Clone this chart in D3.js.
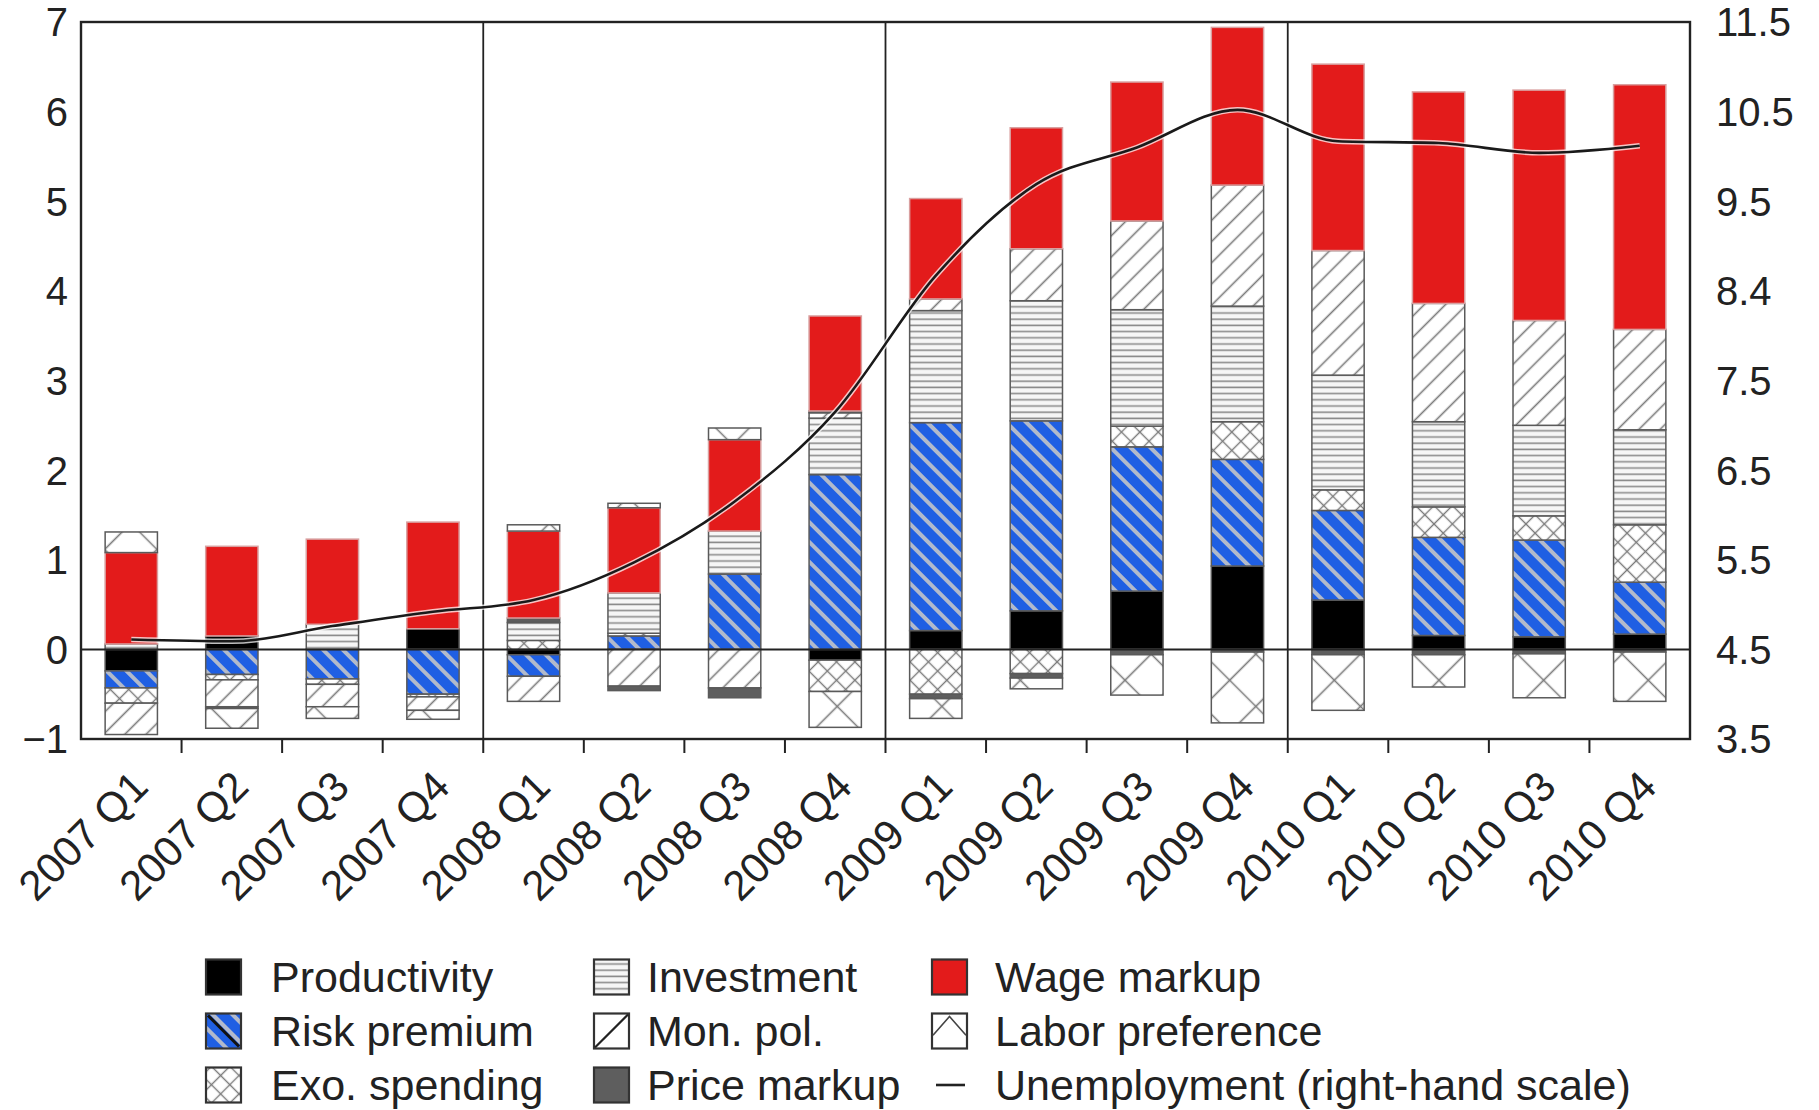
<!DOCTYPE html>
<html><head><meta charset="utf-8">
<script src="https://cdn.jsdelivr.net/npm/d3@7"></script>
<style>
body{margin:0;background:#fff}
svg{display:block}
text{font-family:"Liberation Sans",Arial,Helvetica,sans-serif;fill:#222}
</style>
</head><body>
<svg id="chart" width="1819" height="1110"></svg>
<script>
// ---------- data ----------
const quarters = ["2007 Q1","2007 Q2","2007 Q3","2007 Q4","2008 Q1","2008 Q2","2008 Q3","2008 Q4",
                  "2009 Q1","2009 Q2","2009 Q3","2009 Q4","2010 Q1","2010 Q2","2010 Q3","2010 Q4"];
const productivity    = [-0.24, 0.15, 0.00, 0.23, -0.06, 0.00, 0.00, -0.12, 0.21, 0.43, 0.65, 0.93, 0.55, 0.155, 0.14, 0.17];
const riskPremium     = [-0.19, -0.28, -0.33, -0.50, -0.24, 0.15, 0.84, 1.95, 2.32, 2.12, 1.61, 1.19, 1.00, 1.095, 1.08, 0.58];
const exoSpending     = [-0.17, -0.06, -0.06, -0.03, 0.10, 0.03, 0.00, -0.35, -0.50, -0.27, 0.23, 0.42, 0.23, 0.34, 0.27, 0.64];
const investment      = [0.06, 0.00, 0.28, 0.00, 0.20, 0.45, 0.48, 0.63, 1.25, 1.34, 1.30, 1.29, 1.28, 0.95, 1.01, 1.06];
const monPol          = [-0.35, -0.30, -0.25, -0.15, -0.28, -0.41, -0.43, 0.06, 0.13, 0.58, 0.99, 1.35, 1.39, 1.32, 1.17, 1.12];
const priceMarkup     = [0.00, -0.02, 0.00, 0.00, 0.05, -0.05, -0.11, 0.02, -0.05, -0.05, -0.06, -0.03, -0.06, -0.06, -0.05, -0.03];
const wageMarkup      = [1.02, 1.00, 0.95, 1.19, 0.97, 0.95, 1.02, 1.06, 1.12, 1.35, 1.55, 1.76, 2.08, 2.36, 2.57, 2.73];
const laborPreference = [0.23, -0.22, -0.13, -0.10, 0.07, 0.05, 0.13, -0.40, -0.22, -0.12, -0.45, -0.79, -0.62, -0.36, -0.49, -0.55];
const unemployment    = [4.61, 4.59, 4.76, 4.92, 5.05, 5.47, 6.15, 7.15, 8.67, 9.69, 10.10, 10.52, 10.17, 10.15, 10.04, 10.12];

const seriesNames = ["Productivity","Risk premium","Exo. spending","Investment","Mon. pol.","Price markup","Wage markup","Labor preference"];
const seriesValues = [productivity, riskPremium, exoSpending, investment, monPol, priceMarkup, wageMarkup, laborPreference];

const leftTicks = [7,6,5,4,3,2,1,0,-1];
const leftTickLabels = ["7","6","5","4","3","2","1","0","\u22121"];
const rightTicks = [11.5,10.5,9.5,8.5,7.5,6.5,5.5,4.5,3.5];
const rightTickLabels = ["11.5","10.5","9.5","8.4","7.5","6.5","5.5","4.5","3.5"];

const legendColumns = [
  ["Productivity","Risk premium","Exo. spending"],
  ["Investment","Mon. pol.","Price markup"],
  ["Wage markup","Labor preference","Unemployment (right-hand scale)"]
];

// ---------- layout ----------
const plot = {left: 81, right: 1690, top: 22, bottom: 739};
const svg = d3.select("#chart");

const x = d3.scaleBand().domain(quarters).range([plot.left, plot.right]).paddingInner(0.48).paddingOuter(0.24);
const y = d3.scaleLinear().domain([-1, 7]).range([plot.bottom, plot.top]);
const yR = d3.scaleLinear().domain([3.5, 11.5]).range([plot.bottom, plot.top]);

// ---------- patterns ----------
const defs = svg.append("defs");
function linePattern(id, bg, stroke, sw, period, angle) {
  const p = defs.append("pattern").attr("id", id).attr("patternUnits", "userSpaceOnUse")
    .attr("width", period).attr("height", period)
    .attr("patternTransform", `rotate(${angle})`);
  p.append("rect").attr("width", period).attr("height", period).attr("fill", bg);
  p.append("line").attr("x1", period/2).attr("x2", period/2).attr("y1", -1).attr("y2", period+1)
    .attr("stroke", stroke).attr("stroke-width", sw);
}
function crossPattern(id, stroke, sw, period) {
  const p = defs.append("pattern").attr("id", id).attr("patternUnits", "userSpaceOnUse")
    .attr("width", period).attr("height", period)
    .attr("patternTransform", "rotate(45)");
  p.append("rect").attr("width", period).attr("height", period).attr("fill", "#fff");
  p.append("line").attr("x1", period/2).attr("x2", period/2).attr("y1", -1).attr("y2", period+1)
    .attr("stroke", stroke).attr("stroke-width", sw);
  p.append("line").attr("y1", period/2).attr("y2", period/2).attr("x1", -1).attr("x2", period+1)
    .attr("stroke", stroke).attr("stroke-width", sw);
}
linePattern("pRisk", "#1f5fe3", "#b2bacb", 4, 14, -45);
linePattern("pMon", "#fff", "#7a7a7a", 1.6, 15, 45);
crossPattern("pExo", "#7a7a7a", 1.4, 13);
crossPattern("pLabor", "#7a7a7a", 1.6, 37);
const inv = defs.append("pattern").attr("id", "pInv").attr("patternUnits", "userSpaceOnUse")
  .attr("width", 8).attr("height", 6.2);
inv.append("rect").attr("width", 8).attr("height", 6.2).attr("fill", "#f6f6f6");
inv.append("line").attr("x1", 0).attr("x2", 8).attr("y1", 3).attr("y2", 3).attr("stroke", "#8c8c8c").attr("stroke-width", 1.6);

const fills = {
  "Productivity": "#000",
  "Risk premium": "url(#pRisk)",
  "Exo. spending": "url(#pExo)",
  "Investment": "url(#pInv)",
  "Mon. pol.": "url(#pMon)",
  "Price markup": "#5e5e5e",
  "Wage markup": "#e31b1b",
  "Labor preference": "url(#pLabor)"
};
const strokes = {"Wage markup": "#d9a0a0"};

// ---------- stacked bars ----------
const rows = quarters.map((q, i) => {
  const r = {q};
  seriesNames.forEach((s, k) => r[s] = seriesValues[k][i]);
  return r;
});
const stacked = d3.stack().keys(seriesNames).offset(d3.stackOffsetDiverging)(rows);

const barsG = svg.append("g");
stacked.forEach(layer => {
  barsG.append("g").selectAll("rect")
    .data(layer.filter(d => Math.abs(d[1] - d[0]) > 1e-9))
    .join("rect")
    .attr("x", d => x(d.data.q))
    .attr("width", x.bandwidth())
    .attr("y", d => y(Math.max(d[0], d[1])))
    .attr("height", d => Math.abs(y(d[0]) - y(d[1])))
    .attr("fill", fills[layer.key])
    .attr("stroke", strokes[layer.key] || "#5a5a5a")
    .attr("stroke-width", 1.5);
});

// ---------- group dividers, zero line ----------
const step = x.step();
const boundaries = quarters.slice(1).map(q => x(q) - step * x.paddingInner() / 2);
svg.append("g").selectAll("line")
  .data(boundaries.filter((b, i) => (i + 1) % 4 === 0))
  .join("line")
  .attr("x1", d => d).attr("x2", d => d)
  .attr("y1", plot.top).attr("y2", plot.bottom)
  .attr("stroke", "#222").attr("stroke-width", 1.8);

svg.append("line")
  .attr("x1", plot.left).attr("x2", plot.right)
  .attr("y1", y(0)).attr("y2", y(0))
  .attr("stroke", "#222").attr("stroke-width", 2);

// ---------- unemployment line ----------
const line = d3.line()
  .x((d, i) => x(quarters[i]) + x.bandwidth() / 2)
  .y(d => yR(d))
  .curve(d3.curveMonotoneX);
svg.append("path").attr("d", line(unemployment))
  .attr("fill", "none").attr("stroke", "#fff").attr("stroke-opacity", 0.75).attr("stroke-width", 5.5);
svg.append("path").attr("d", line(unemployment))
  .attr("fill", "none").attr("stroke", "#1a1a1a").attr("stroke-width", 2.6);

// ---------- frame ----------
svg.append("rect")
  .attr("x", plot.left).attr("y", plot.top)
  .attr("width", plot.right - plot.left).attr("height", plot.bottom - plot.top)
  .attr("fill", "none").attr("stroke", "#222").attr("stroke-width", 2.4);

svg.append("g").selectAll("line")
  .data(boundaries)
  .join("line")
  .attr("x1", d => d).attr("x2", d => d)
  .attr("y1", plot.bottom).attr("y2", plot.bottom + 14)
  .attr("stroke", "#222").attr("stroke-width", 2);

// ---------- axes labels ----------
svg.append("g").selectAll("text")
  .data(leftTicks)
  .join("text")
  .attr("x", 68).attr("y", d => y(d))
  .attr("dy", "0.36em")
  .attr("text-anchor", "end")
  .attr("font-size", 40)
  .text((d, i) => leftTickLabels[i]);

svg.append("g").selectAll("text")
  .data(rightTicks)
  .join("text")
  .attr("x", 1716).attr("y", d => yR(d))
  .attr("dy", "0.36em")
  .attr("text-anchor", "start")
  .attr("font-size", 40)
  .text((d, i) => rightTickLabels[i]);

svg.append("g").selectAll("text")
  .data(quarters)
  .join("text")
  .attr("transform", d => `translate(${x(d) + x.bandwidth() / 2 + 19},${plot.bottom + 50}) rotate(-45)`)
  .attr("text-anchor", "end")
  .attr("font-size", 42)
  .text(d => d);

// ---------- legend ----------
const legCol = [{box: 206, text: 271}, {box: 594, text: 647}, {box: 932, text: 995}];
const legRow = [977, 1031, 1085];
const boxS = 35;
const leg = svg.append("g");
legendColumns.forEach((col, ci) => {
  col.forEach((name, ri) => {
    const bx = legCol[ci].box, cy = legRow[ri], by = cy - boxS / 2;
    const g = leg.append("g");
    if (name.startsWith("Unemployment")) {
      g.append("line").attr("x1", bx + 4).attr("x2", bx + boxS - 2).attr("y1", cy).attr("y2", cy)
        .attr("stroke", "#222").attr("stroke-width", 2.6);
    } else {
      g.append("rect").attr("x", bx).attr("y", by).attr("width", boxS).attr("height", boxS)
        .attr("fill", name === "Mon. pol." || name === "Labor preference" ? "#fff" : fills[name])
        .attr("stroke", "#333").attr("stroke-width", 2.2);
      if (name === "Risk premium") {
        g.append("line").attr("x1", bx + 2).attr("y1", by + 2).attr("x2", bx + boxS - 2).attr("y2", by + boxS - 2)
          .attr("stroke", "#111").attr("stroke-width", 3);
      }
      if (name === "Mon. pol.") {
        g.append("line").attr("x1", bx + 1).attr("y1", by + boxS - 1).attr("x2", bx + boxS - 1).attr("y2", by + 1)
          .attr("stroke", "#222").attr("stroke-width", 2.2);
      }
      if (name === "Labor preference") {
        g.append("polyline").attr("points", `${bx+1},${by+boxS*0.62} ${bx+boxS/2},${by+3} ${bx+boxS-1},${by+boxS*0.62}`)
          .attr("fill", "none").attr("stroke", "#444").attr("stroke-width", 1.6);
      }
    }
    g.append("text").attr("x", legCol[ci].text).attr("y", cy).attr("dy", "0.36em")
      .attr("font-size", 43).text(name);
  });
});
</script>
</body></html>
